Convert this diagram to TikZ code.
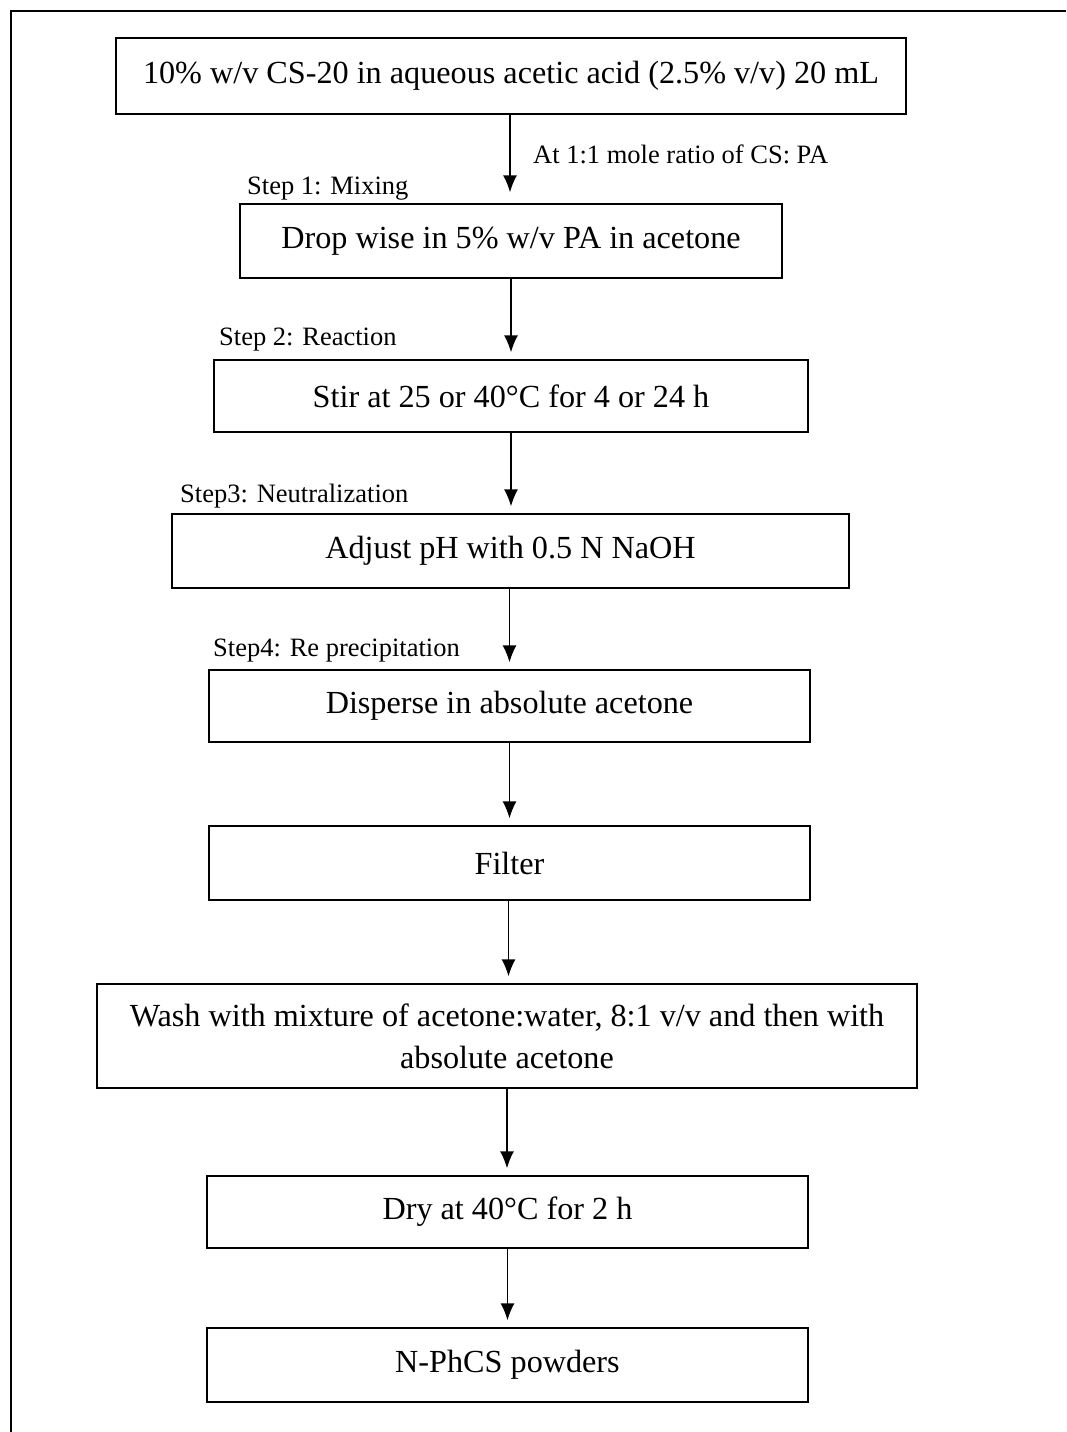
\documentclass[tikz,border=0pt]{standalone}
\usepackage{fontspec}
\setmainfont{Liberation Serif}
\usetikzlibrary{arrows.meta}
\begin{document}
\begin{tikzpicture}[x=1pt,y=-1pt,
  box/.style={draw, line width=1.4pt, rectangle, inner sep=0pt, align=center, font=\fontsize{32.2}{42}\selectfont},
  steplabel/.style={inner sep=0pt, anchor=base west, font=\fontsize{26.5}{30}\selectfont},
  flow/.style={line width=1.4pt, -{Latex[length=17pt,width=14pt]}, shorten >=7pt}]
\useasboundingbox (0,0) rectangle (1066,1432);
\draw[line width=1.8pt] (11,1432) -- (11,11) -- (1066,11);

\node[box, minimum width=790pt, minimum height=76pt] (b1) at (511,76) {10\% w/v CS-20 in aqueous acetic acid (2.5\% v/v) 20 mL};
\node[box, minimum width=542pt, minimum height=74pt] (b2) at (511,241) {Drop wise in 5\% w/v PA in acetone};
\node[box, minimum width=594pt, minimum height=72pt] (b3) at (511,396) {Stir at 25 or 40°C for 4 or 24 h};
\node[box, minimum width=677pt, minimum height=74pt] (b4) at (510.5,551) {Adjust pH with 0.5 N NaOH};
\node[box, minimum width=601pt, minimum height=72pt] (b5) at (509.5,706) {Disperse in absolute acetone};
\node[box, minimum width=601pt, minimum height=74pt] (b6) at (509.5,863) {Filter};
\node[box, minimum width=820pt, minimum height=104pt] (b7) at (507,1036) {Wash with mixture of acetone:water, 8:1 v/v and then with\\absolute acetone};
\node[box, minimum width=601pt, minimum height=72pt] (b8) at (507.5,1212) {Dry at 40°C for 2 h};
\node[box, minimum width=601pt, minimum height=74pt] (b9) at (507.5,1365) {N-PhCS powders};

\node[steplabel] (l0) at (533,163) {At 1:1 mole ratio of CS: PA};
\node[steplabel] (l1) at (247,194) {Step 1: Mixing};
\node[steplabel] (l2) at (219,345) {Step 2: Reaction};
\node[steplabel] (l3) at (180,502) {Step3: Neutralization};
\node[steplabel] (l4) at (213,656) {Step4: Re precipitation};

\draw[flow, shorten >=11pt] ([xshift=-1pt]b1.south) -- ([xshift=-1pt]b1.south |- b2.north);
\draw[flow] (b2.south) -- (b2.south |- b3.north);
\draw[flow] (b3.south) -- (b3.south |- b4.north);
\draw[flow] ([xshift=-1pt]b4.south) -- ([xshift=-1pt]b4.south |- b5.north);
\draw[flow] (b5.south) -- (b5.south |- b6.north);
\draw[flow] ([xshift=-1pt]b6.south) -- ([xshift=-1pt]b6.south |- b7.north);
\draw[flow] (b7.south) -- (b7.south |- b8.north);
\draw[flow] (b8.south) -- (b8.south |- b9.north);
\end{tikzpicture}
\end{document}
